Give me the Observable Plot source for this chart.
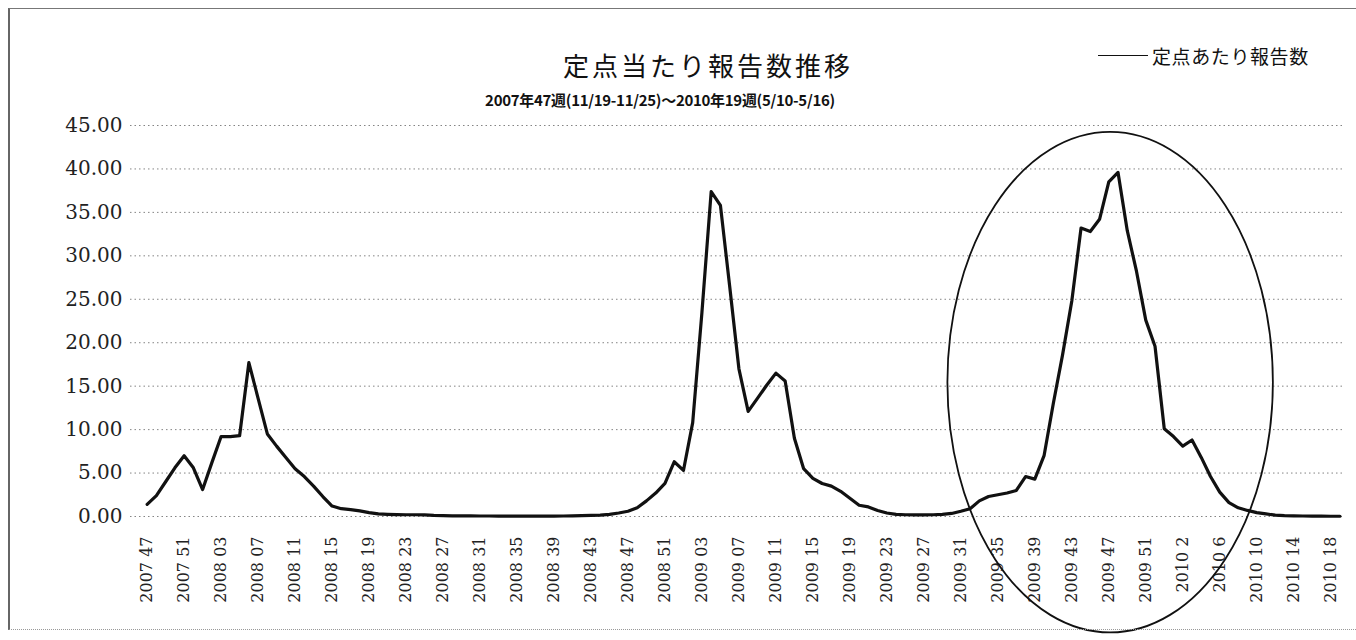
<!DOCTYPE html>
<html><head><meta charset="utf-8">
<script src="https://cdn.jsdelivr.net/npm/d3@7"></script>
<script src="https://cdn.jsdelivr.net/npm/@observablehq/plot@0.6"></script>
<style>
body{margin:0;background:#fff}
#wrap{position:relative;width:1356px;height:640px;overflow:hidden;background:#fff}
#chart{position:absolute;left:0;top:0}
#frame{position:absolute;left:8px;top:8px;width:1350px;height:620px;border-top:1px solid #777;border-left:2px solid #666;border-bottom:1px dotted #999;pointer-events:none}
.t{position:absolute;white-space:nowrap;color:#111}
#title{left:708px;top:46px;transform:translateX(-50%);font:400 26px "Noto Sans CJK JP",sans-serif;letter-spacing:3px}
#subtitle{left:660px;top:89px;transform:translateX(-50%);font:700 15px "Noto Sans CJK JP",sans-serif;letter-spacing:-0.3px}
#legend{left:1098px;top:42px;font:400 19px "Noto Sans CJK JP",sans-serif;letter-spacing:0.6px;display:flex;align-items:center}
#legend .sw{display:inline-block;width:50px;height:0;border-top:1.5px solid #111;margin-right:4px}
</style></head><body>
<div id="wrap">
<div id="chart"></div>
<div id="frame"></div>
<div class="t" id="title">定点当たり報告数推移</div>
<div class="t" id="subtitle">2007年47週(11/19-11/25)～2010年19週(5/10-5/16)</div>
<div class="t" id="legend"><span class="sw"></span><span>定点あたり報告数</span></div>
</div>
<script>
// Week tick labels (every 4th week, starting 2007 week 47)
const tickLabels = ["2007 47","2007 51","2008 03","2008 07","2008 11","2008 15","2008 19","2008 23","2008 27","2008 31","2008 35","2008 39","2008 43","2008 47","2008 51","2009 03","2009 07","2009 11","2009 15","2009 19","2009 23","2009 27","2009 31","2009 35","2009 39","2009 43","2009 47","2009 51","2010 2","2010 6","2010 10","2010 14","2010 18"];
// Reports per sentinel site, weekly from 2007 week 47 to 2010 week 19
const seriesName = "定点あたり報告数";
const values = [
 1.4, 2.4, 4.0, 5.6, 7.0, 5.6, 3.1, 6.2, 9.2, 9.2,
 9.3, 17.7, 13.6, 9.5, 8.1, 6.8, 5.5, 4.6, 3.5, 2.3,
 1.2, 0.9, 0.8, 0.65, 0.45, 0.3, 0.25, 0.22, 0.2, 0.2,
 0.18, 0.12, 0.1, 0.08, 0.08, 0.07, 0.06, 0.06, 0.05, 0.05,
 0.05, 0.05, 0.04, 0.04, 0.05, 0.06, 0.08, 0.1, 0.12, 0.15,
 0.25, 0.4, 0.6, 1.0, 1.8, 2.7, 3.8, 6.3, 5.3, 10.8,
 23.5, 37.4, 35.8, 26.5, 17.0, 12.1, 13.6, 15.1, 16.5, 15.6,
 9.0, 5.5, 4.4, 3.8, 3.5, 2.9, 2.1, 1.3, 1.1, 0.7,
 0.4, 0.25, 0.2, 0.18, 0.18, 0.2, 0.25, 0.35, 0.6, 0.9,
 1.8, 2.3, 2.5, 2.7, 3.0, 4.6, 4.3, 7.0, 13.0, 18.6,
 24.8, 33.2, 32.8, 34.2, 38.5, 39.6, 32.9, 28.2, 22.6, 19.6,
 10.1, 9.2, 8.1, 8.8, 6.8, 4.6, 2.8, 1.6, 1.0, 0.7,
 0.45, 0.3, 0.15, 0.1, 0.08, 0.06, 0.05, 0.04, 0.03, 0.03
];
const yTicks = [0, 5, 10, 15, 20, 25, 30, 35, 40, 45];
const xTicks = tickLabels.map((_, i) => i * 4);
// Hand-drawn ellipse annotation (data units: week index, value)
const ring = {cx: 104.2, cy: 15.4, rx: 17.6, ry: 28.8};

const plot = Plot.plot({
  width: 1356, height: 640,
  marginTop: 125, marginBottom: 124, marginLeft: 130, marginRight: 11,
  x: {domain: [-1.8, 129.6]},
  y: {domain: [0, 45]},
  style: {background: "transparent", fontFamily: "'DejaVu Serif', serif", color: "#222"},
  marks: [
    Plot.gridY(yTicks, {stroke: "#777", strokeOpacity: 0.9, strokeDasharray: "1.5,3"}),
    Plot.axisY(yTicks, {tickSize: 0, tickPadding: 8, tickFormat: d3.format(".2f"), fontSize: 20, label: null, fill: "#222"}),
    Plot.axisX(xTicks, {tickSize: 0, tickPadding: 20, tickRotate: -90, tickFormat: d => tickLabels[d / 4], fontSize: 16, label: null, fill: "#222"}),
    Plot.line(values, {x: (d, i) => i, y: d => d, stroke: "#111", strokeWidth: 3.2, strokeLinejoin: "round", title: () => seriesName})
  ]
});
document.getElementById("chart").appendChild(plot);

const sx = plot.scale("x"), sy = plot.scale("y");
const cxp = sx.apply(ring.cx), cyp = sy.apply(ring.cy);
const rxp = Math.abs(sx.apply(ring.cx + ring.rx) - cxp);
const ryp = Math.abs(sy.apply(ring.cy + ring.ry) - cyp);
d3.select(plot).append("ellipse")
  .attr("cx", cxp).attr("cy", cyp).attr("rx", rxp).attr("ry", ryp)
  .attr("fill", "none").attr("stroke", "#111").attr("stroke-width", 1.8);
</script>
</body></html>
